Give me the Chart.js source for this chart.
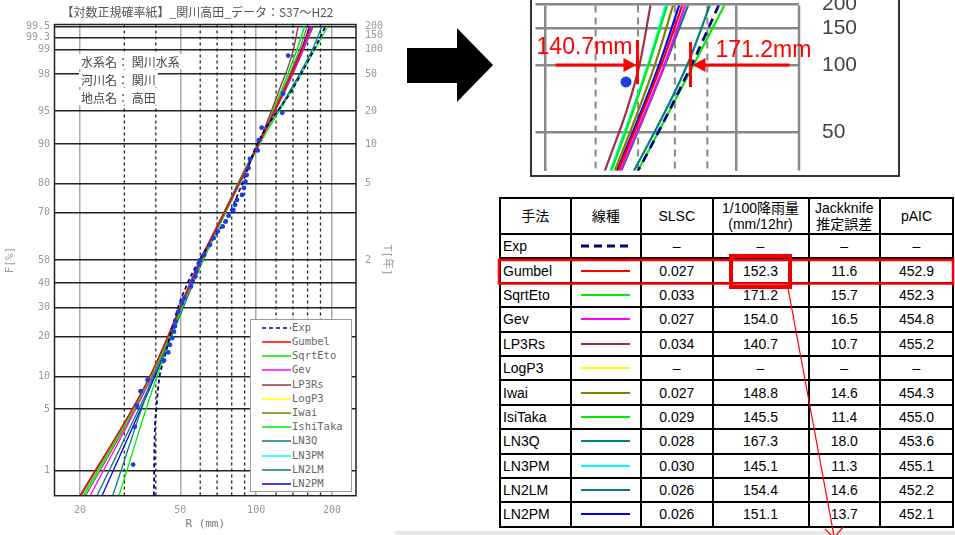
<!DOCTYPE html>
<html>
<head>
<meta charset="utf-8">
<script src="https://cdn.jsdelivr.net/npm/chart.js@4.4.1/dist/chart.umd.min.js"></script>
<style>
body{margin:0;width:955px;height:535px;position:relative;overflow:hidden;background:#fff;font-family:"Liberation Sans","Noto Sans CJK JP",sans-serif}
#main{position:absolute;left:0;top:0}
#inset{position:absolute;left:530px;top:0}
#insetFrame{position:absolute;left:530px;top:-2px;width:366px;height:175px;border:2px solid #333}
.info{position:absolute;left:79px;font:12px "Noto Sans CJK JP";color:#444;background:#fff;line-height:15px;padding:0 2px}
#legend{position:absolute;left:250px;top:319px;width:100px;height:171px;border:1.5px solid #999;background:#fff}
#legend .row{position:absolute;left:0;height:14px;line-height:14px;font:10.5px "DejaVu Sans Mono";color:#666;white-space:nowrap}
#legend svg{position:absolute;left:11px;top:0}
#legend span{position:absolute;left:41px;top:0}
#tbl{position:absolute;left:499px;top:197px;border-collapse:collapse;table-layout:fixed;width:453px;font-size:14px;color:#000}
#tbl td,#tbl th{border:2px solid #000;padding:0;text-align:center;vertical-align:middle;font-weight:normal;white-space:nowrap;overflow:hidden}
#tbl th{height:34px;line-height:16px}
#tbl td{height:22.4px}
#tbl td.nm{text-align:left;padding-left:2px}
#tbl svg{display:block;margin:0 auto}
#strip{position:absolute;left:395px;top:531px;width:560px;height:4px;background:#e8e8e8}
#over{position:absolute;left:0;top:0}
</style>
</head>
<body>
<canvas id="main" width="395" height="535"></canvas>
<div class="info" style="top:54px">水系名： 関川水系</div>
<div class="info" style="top:72px">河川名： 関川</div>
<div class="info" style="top:90px">地点名： 高田</div>
<div id="legend"></div>
<canvas id="inset" width="370" height="176"></canvas>
<div id="insetFrame"></div>
<div id="strip"></div>
<table id="tbl">
  <colgroup><col style="width:70.5px"><col style="width:70.5px"><col style="width:71.5px"><col style="width:96px"><col style="width:71.5px"><col style="width:73px"></colgroup>
  <thead><tr><th>手法</th><th>線種</th><th>SLSC</th><th>1/100降雨量<br>(mm/12hr)</th><th>Jackknife<br>推定誤差</th><th>pAIC</th></tr></thead>
  <tbody id="tbody"></tbody>
</table>
<svg id="over" width="955" height="535">
  <polygon points="407,48 457,48 457,28 493,65 457,102 457,83 407,83" fill="#000"/>
  <rect x="499" y="260" width="454" height="23.5" fill="none" stroke="#f00" stroke-width="2.5"/>
  <rect x="731" y="256" width="59" height="31" fill="none" stroke="#e00" stroke-width="4"/>
  <line x1="788" y1="288" x2="834" y2="536" stroke="#f00" stroke-width="1.2"/>
  <polyline points="825,529 834,538 843,527" fill="none" stroke="#f00" stroke-width="1.2"/>
</svg>
<script>
// 手法ごとの表の値
const methodNames = ['Exp', 'Gumbel', 'SqrtEto', 'Gev', 'LP3Rs', 'LogP3', 'Iwai', 'IsiTaka', 'LN3Q', 'LN3PM', 'LN2LM', 'LN2PM'];
const legendNames = ['Exp', 'Gumbel', 'SqrtEto', 'Gev', 'LP3Rs', 'LogP3', 'Iwai', 'IshiTaka', 'LN3Q', 'LN3PM', 'LN2LM', 'LN2PM'];
const slsc = [null, 0.027, 0.033, 0.027, 0.034, null, 0.027, 0.029, 0.028, 0.030, 0.026, 0.026];
const rain100 = [null, 152.3, 171.2, 154.0, 140.7, null, 148.8, 145.5, 167.3, 145.1, 154.4, 151.1];
const jackknife = [null, 11.6, 15.7, 16.5, 10.7, null, 14.6, 11.4, 18.0, 11.3, 14.6, 13.7];
const paic = [null, 452.9, 452.3, 454.8, 455.2, null, 454.3, 455.0, 453.6, 455.1, 452.2, 452.1];

// 確率紙の目盛
const fTicks = [1, 5, 10, 20, 30, 40, 50, 70, 80, 90, 95, 98, 99, 99.3, 99.5];
const tTicks = [2, 5, 10, 20, 50, 100, 150, 200];
const insetT = [50, 100, 150, 200];
const xMajor = [20, 50, 100, 200];
const xMinor = [30, 40, 60, 70, 80, 90, 120, 140, 160, 180];

// 観測値 (プロット)
const obsF = [1.2, 3.3, 5.4, 7.4, 9.3, 13.4, 15.4, 17.5, 19.5, 21.5, 23.3, 25.0, 28.5, 31.7, 33.8, 38.5, 40.7, 42.8, 45.0, 48.0, 50.0, 52.3, 56.7, 59.6, 62.4, 64.5, 66.5, 68.8, 71.0, 72.9, 74.7, 76.4, 78.7, 80.7, 82.6, 84.5, 86.8, 88.7, 90.7, 92.8, 94.8, 96.7, 98.8];
const obsR = [32.5, 33.0, 33.7, 34.8, 37.1, 43.1, 44.8, 45.5, 46.5, 47.2, 47.6, 47.9, 49.1, 50.6, 51.9, 55.1, 55.9, 57.4, 57.9, 59.3, 60.0, 62.2, 65.6, 67.9, 70.4, 73.7, 75.8, 77.8, 81.2, 82.5, 84.0, 87.9, 89.4, 90.7, 91.8, 93.4, 94.5, 101.4, 102.4, 105.2, 127.0, 128.0, 134.0];

// 各分布の確率降雨量 (F[%] ごと)
const curveF = [0.47, 10, 50, 90, 97, 99, 99.5];
const gumbelR  = [20.2, 37.9, 60.5, 102.6, 129.5, 152.3, 164.6];
const sqrtEtoR = [20.6, 38.3, 61.6, 103.5, 139.0, 171.2, 192.0];
const gevR     = [22.0, 38.6, 61.0, 102.6, 130.5, 154.0, 166.4];
const lp3rsR   = [20.0, 37.9, 59.9, 101.7, 123.6, 140.7, 146.6];
const iwaiR    = [21.1, 38.6, 60.5, 101.7, 128.0, 148.8, 159.2];
const isiTakaR = [28.6, 40.4, 61.0, 101.7, 126.5, 145.5, 155.8];
const ln3qR    = [27.0, 39.0, 61.0, 101.7, 137.0, 167.3, 182.0];
const ln3pmR   = [20.8, 38.3, 60.5, 102.6, 126.0, 145.1, 154.9];
const ln2lmR   = [23.4, 39.3, 61.0, 101.7, 131.0, 154.4, 168.2];
const ln2pmR   = [24.5, 39.7, 61.6, 102.6, 129.0, 151.1, 162.8];
const expF = [0.47, 2, 5, 10, 13, 20, 30, 40, 50, 70, 80, 90, 97, 99, 99.5];
const expR = [39.3, 39.5, 40.2, 41.4, 42.9, 45.5, 49.0, 53.5, 59.5, 78.5, 88.0, 101, 139, 170, 188];

const curveR = [expR, gumbelR, sqrtEtoR, gevR, lp3rsR, null, iwaiR, isiTakaR, ln3qR, ln3pmR, ln2lmR, ln2pmR];
const lineColors = ['#000080', '#ff0000', '#00ee00', '#ff00ff', '#993344', '#ffff00', '#808000', '#00ee00', '#008080', '#00ffff', '#107878', '#0000ff'];
const dotColor = '#1f3be6';

// 正規確率の逆関数 (Acklam)
function probit(p) {
  const a = [-39.69683028665376, 220.9460984245205, -275.9285104469687, 138.3577518672690, -30.66479806614716, 2.506628277459239];
  const b = [-54.47609879822406, 161.5858368580409, -155.6989798598866, 66.80131188771972, -13.28068155288572];
  const c = [-0.007784894002430293, -0.3223964580411365, -2.400758277161838, -2.549732539343734, 4.374664141464968, 2.938163982698783];
  const d = [0.007784695709041462, 0.3224671290700398, 2.445134137142996, 3.754408661907416];
  let q, r;
  if (p < 0.02425) {
    q = Math.sqrt(-2 * Math.log(p));
    return (((((c[0]*q+c[1])*q+c[2])*q+c[3])*q+c[4])*q+c[5]) / ((((d[0]*q+d[1])*q+d[2])*q+d[3])*q+1);
  }
  if (p > 1 - 0.02425) {
    q = Math.sqrt(-2 * Math.log(1 - p));
    return -(((((c[0]*q+c[1])*q+c[2])*q+c[3])*q+c[4])*q+c[5]) / ((((d[0]*q+d[1])*q+d[2])*q+d[3])*q+1);
  }
  q = p - 0.5; r = q * q;
  return (((((a[0]*r+a[1])*r+a[2])*r+a[3])*r+a[4])*r+a[5])*q / (((((b[0]*r+b[1])*r+b[2])*r+b[3])*r+b[4])*r+1);
}
function normCdf(z) {
  const t = 1 / (1 + 0.2316419 * Math.abs(z));
  const p = 0.3989423 * Math.exp(-z * z / 2) * t * (0.3193815 + t * (-0.3565638 + t * (1.781478 + t * (-1.821256 + t * 1.330274))));
  return z > 0 ? 1 - p : p;
}

// F[%] を正規確率で並べる軸
class ProbitScale extends Chart.Scale {
  static id = 'probit';
  static defaults = {};
  determineDataLimits() {
    this.min = this.options.min;
    this.max = this.options.max;
  }
  buildTicks() {
    return this.options.tickValues.map(v => ({value: v}));
  }
  getLabelForValue(v) { return v; }
  configure() {
    super.configure();
    this._z0 = probit(this.min / 100);
    this._z1 = probit(this.max / 100);
  }
  getPixelForValue(v) {
    if (v === null || v === undefined || isNaN(v)) return NaN;
    return this.getPixelForDecimal((probit(v / 100) - this._z0) / (this._z1 - this._z0));
  }
  getValueForPixel(px) {
    const z = this._z0 + this.getDecimalForPixel(px) * (this._z1 - this._z0);
    return 100 * normCdf(z);
  }
}
Chart.register(ProbitScale);

const tToF = t => 100 * (1 - 1 / t);

const probGrid = {
  id: 'probGrid',
  beforeDatasetsDraw(chart, args, opts) {
    const {ctx, chartArea: a, scales: {x}} = chart;
    ctx.save();
    ctx.strokeStyle = opts.color;
    ctx.lineWidth = opts.width;
    ctx.setLineDash(opts.dash);
    opts.values.forEach(v => {
      const px = x.getPixelForValue(v);
      ctx.beginPath();
      ctx.moveTo(px, a.top);
      ctx.lineTo(px, a.bottom);
      ctx.stroke();
    });
    ctx.restore();
  },
  afterDatasetsDraw(chart, args, opts) {
    const {ctx, chartArea: a} = chart;
    ctx.save();
    ctx.strokeStyle = opts.frameColor;
    ctx.lineWidth = opts.frameWidth;
    if (opts.frame === 'all') {
      ctx.strokeRect(a.left, a.top, a.right - a.left, a.bottom - a.top);
    } else {
      ctx.beginPath();
      ctx.moveTo(a.right, a.top);
      ctx.lineTo(a.right, a.bottom);
      ctx.stroke();
    }
    ctx.restore();
  }
};

// 拡大図の 1/100 確率値の注記
const marks = {
  id: 'marks',
  afterDatasetsDraw(chart) {
    const {ctx, scales: {x, y}} = chart;
    const y99 = y.getPixelForValue(99);
    const xl = x.getPixelForValue(rain100[4]) - 2;
    const xr = x.getPixelForValue(rain100[2]) - 3;
    ctx.save();
    ctx.strokeStyle = '#ff0000';
    ctx.fillStyle = '#ff0000';
    ctx.lineWidth = 3;
    ctx.beginPath();
    ctx.moveTo(xl, y99 - 25); ctx.lineTo(xl, y99 + 19);
    ctx.moveTo(xl - 82, y99); ctx.lineTo(xl - 10, y99);
    ctx.moveTo(xr, y99 - 23); ctx.lineTo(xr, y99 + 22);
    ctx.moveTo(xr + 99, y99); ctx.lineTo(xr + 12, y99);
    ctx.stroke();
    ctx.beginPath();
    ctx.moveTo(xl - 1, y99); ctx.lineTo(xl - 14, y99 - 7); ctx.lineTo(xl - 14, y99 + 7); ctx.closePath();
    ctx.moveTo(xr + 2, y99); ctx.lineTo(xr + 15, y99 - 7); ctx.lineTo(xr + 15, y99 + 7); ctx.closePath();
    ctx.fill();
    ctx.font = '23px "Liberation Sans"';
    ctx.textAlign = 'right';
    ctx.fillText(rain100[4].toFixed(1) + 'mm', xl - 5, y99 - 11);
    ctx.textAlign = 'left';
    ctx.fillText(rain100[2].toFixed(1) + 'mm', xr + 25, y99 - 8);
    ctx.restore();
  }
};

function buildSets(lineWidth, dotRadius, dash) {
  const sets = [{
    label: '観測値',
    data: obsF.map((f, i) => ({x: obsR[i], y: f})),
    pointRadius: dotRadius,
    pointBackgroundColor: dotColor,
    pointBorderWidth: 0,
    showLine: false
  }];
  methodNames.forEach((name, i) => {
    const r = curveR[i];
    if (!r) return;
    const fs = i === 0 ? expF : curveF;
    sets.push({
      label: name,
      data: fs.map((f, k) => ({x: r[k], y: f})),
      showLine: true,
      borderColor: lineColors[i],
      borderWidth: i === 0 ? lineWidth + 0.5 : lineWidth,
      borderDash: i === 0 ? dash : [],
      cubicInterpolationMode: 'monotone',
      pointRadius: 0
    });
  });
  return sets;
}

const tickFont = {family: '"DejaVu Sans Mono"', size: 10};
const axisFont = {family: '"DejaVu Sans Mono", "Noto Sans CJK JP"', size: 11};

new Chart(document.getElementById('main'), {
  type: 'scatter',
  data: {datasets: buildSets(1.3, 2.4, [4, 3])},
  options: {
    responsive: false,
    animation: false,
    layout: {padding: 0},
    plugins: {
      legend: {display: false},
      tooltip: {enabled: false},
      title: {
        display: true,
        text: '【対数正規確率紙】_関川高田_データ：S37～H22',
        color: '#555',
        font: {family: '"Noto Sans CJK JP"', size: 12, weight: 'normal'},
        padding: {top: 5, bottom: 5.1}
      },
      probGrid: {values: xMinor, color: '#222', width: 1.3, dash: [3, 3], frame: 'all', frameColor: '#222', frameWidth: 1.5}
    },
    scales: {
      x: {
        type: 'logarithmic',
        min: 15.85,
        max: 249,
        bounds: 'data',
        afterBuildTicks: s => { s.ticks = xMajor.map(v => ({value: v})); },
        ticks: {color: '#999', font: tickFont, padding: 8.5, callback: v => v, autoSkip: false, maxRotation: 0},
        grid: {color: '#aaa', lineWidth: 1.5, drawTicks: false},
        border: {display: false},
        title: {display: true, text: 'R (mm)', color: '#777', font: axisFont, padding: {top: 0, bottom: 4.4}},
        afterFit: s => { s.height = 39.3; }
      },
      y: {
        type: 'probit',
        position: 'left',
        min: 0.466,
        max: 99.534,
        tickValues: fTicks,
        ticks: {autoSkip: false, color: '#999', font: tickFont, padding: 4.5},
        grid: {color: '#222', lineWidth: 1.4, drawTicks: false},
        border: {display: false},
        title: {display: true, text: 'F[%]', color: '#999', font: axisFont, padding: {top: 3.4, bottom: 0}},
        afterFit: s => { s.width = 54.5; }
      },
      y2: {
        type: 'probit',
        position: 'right',
        min: 0.466,
        max: 99.534,
        tickValues: tTicks.map(tToF),
        ticks: {autoSkip: false, color: '#999', font: tickFont, padding: 9, callback: (v, i) => tTicks[i]},
        grid: {display: false, drawTicks: false},
        border: {display: false},
        title: {display: true, text: 'T[年]', color: '#999', font: axisFont, padding: {top: 1.4, bottom: 0}},
        afterFit: s => { s.width = 39; }
      }
    }
  },
  plugins: [probGrid]
});

new Chart(document.getElementById('inset'), {
  type: 'scatter',
  data: {datasets: buildSets(2.2, 5.5, [9, 6])},
  options: {
    responsive: false,
    animation: false,
    layout: {padding: {left: 1.7, top: 0, right: 0, bottom: 0}},
    plugins: {
      legend: {display: false},
      tooltip: {enabled: false},
      probGrid: {values: xMinor.filter(v => v > 100), color: '#888', width: 2, dash: [7, 5], frame: 'right', frameColor: '#888', frameWidth: 2.5}
    },
    scales: {
      x: {
        type: 'logarithmic',
        min: 96.5,
        max: 251,
        bounds: 'data',
        afterBuildTicks: s => { s.ticks = xMajor.filter(v => v >= 100).map(v => ({value: v})); },
        ticks: {display: false},
        grid: {color: '#888', lineWidth: 2.5, drawTicks: false},
        border: {display: false},
        afterFit: s => { s.height = 1; }
      },
      y: {
        type: 'probit',
        position: 'right',
        min: 97.1,
        max: 99.49,
        tickValues: insetT.map(tToF),
        ticks: {autoSkip: false, color: '#444', font: {family: '"Liberation Sans"', size: 21}, padding: 23, callback: (v, i) => insetT[i]},
        grid: {color: '#888', lineWidth: 2.5, drawTicks: false},
        border: {display: false},
        afterFit: s => { s.width = 101; s.paddingTop = 0; s.paddingBottom = 0; }
      }
    }
  },
  plugins: [probGrid, marks]
});

// 凡例
const legend = document.getElementById('legend');
legendNames.forEach((name, i) => {
  const row = document.createElement('div');
  row.className = 'row';
  row.style.top = (0.7 + 14.2 * i) + 'px';
  const dash = i === 0 ? ' stroke-dasharray="4 3"' : '';
  row.innerHTML = '<svg width="29" height="14"><line x1="0" y1="7" x2="29" y2="7" stroke="' + lineColors[i] + '" stroke-width="1.5"' + dash + '/></svg><span>' + name + '</span>';
  legend.appendChild(row);
});

// 表
const fmt = (v, d) => v === null ? '–' : v.toFixed(d);
const tbody = document.getElementById('tbody');
methodNames.forEach((name, i) => {
  const tr = document.createElement('tr');
  const line = i === 0
    ? '<svg width="49" height="8"><line x1="0" y1="4" x2="49" y2="4" stroke="' + lineColors[i] + '" stroke-width="3" stroke-dasharray="8 5"/></svg>'
    : '<svg width="49" height="8"><line x1="0" y1="4" x2="49" y2="4" stroke="' + lineColors[i] + '" stroke-width="2"/></svg>';
  tr.innerHTML = '<td class="nm">' + name + '</td><td>' + line + '</td><td>' + fmt(slsc[i], 3) + '</td><td>' + fmt(rain100[i], 1) +
    '</td><td>' + fmt(jackknife[i], 1) + '</td><td>' + fmt(paic[i], 1) + '</td>';
  tbody.appendChild(tr);
});
</script>
</body>
</html>
